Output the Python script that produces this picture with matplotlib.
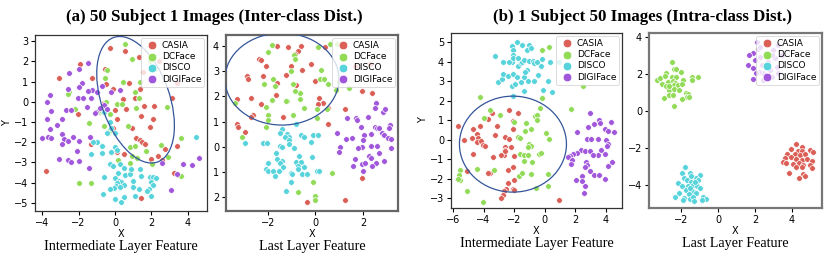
import matplotlib
matplotlib.use("Agg")
import matplotlib.pyplot as plt
from matplotlib.patches import Ellipse
from matplotlib.transforms import ScaledTranslation

labels = ["CASIA", "DCFace", "DISCO", "DIGIFace"]
colors = ["#db5f57", "#91db57", "#57d3db", "#a157db"]

# ---------------- Panel 1 : (a) intermediate layer ----------------
p1_casia = [(-0.3, 2.65), (0.55, 2.5), (1.3, 2.2), (-1.9, 1.86), (-3.1, 1.15), (-1.26, 1.19),
            (-0.56, 1.6), (0.77, 0.94), (-0.49, 0.87), (-0.1, 0.62), (1.38, 0.64), (1.1, 0.2),
            (0.44, 0.13), (0.62, -0.37), (1.6, -0.22), (2.14, -0.22), (0.09, -0.83), (-2.04, -0.6),
            (1.45, -0.68), (2.1, -0.83), (0.92, -1.32), (1.93, -1.24), (1.18, -1.77), (1.38, -1.87),
            (1.5, -1.98), (1.64, -2.1), (-1.34, -2.1), (0.1, -2.48), (0.5, -2.56), (2.38, -2.7),
            (1.97, -2.84), (2.75, -2.35), (3.4, -2.18), (3.13, 0.2), (3.41, 0.94), (-3.78, -3.42),
            (3.26, -3.5), (1.42, -4.77), (-0.62, -0.04), (-0.1, -1.3), (2.4, 2.0), (1.55, 1.45),
            (0.0, -0.4), (2.6, -2.9)]
p1_dcface = [(0.55, 2.85), (0.95, 2.1), (1.9, 2.0), (-0.45, 1.55), (-0.55, 1.15), (0.45, 1.0),
             (1.1, 0.5), (1.3, 0.2), (-2.5, 0.5), (-2.6, 0.4), (-0.9, -0.5), (-0.3, -0.6),
             (0.1, -0.1), (0.4, -0.1), (1.15, -0.3), (2.85, -0.25), (-1.4, -1.05), (-0.6, -1.2),
             (0.7, -1.2), (-0.4, -1.55), (0.85, -2.25), (1.1, -2.2), (0.95, -2.7), (1.7, -2.45),
             (2.05, -3.1), (2.55, -2.15), (2.9, -2.75), (3.45, -3.6), (3.6, -1.8), (3.6, -3.65),
             (-2.0, -4.0), (-1.3, -4.0), (1.2, -2.8), (0.85, -3.05), (0.9, -3.35), (0.15, -2.9),
             (-2.2, -0.35), (-0.95, -0.45), (-0.5, 0.0), (2.2, 1.6), (1.4, 1.0), (-0.25, -1.4)]
p1_disco = [(-0.3, -1.0), (-0.2, -1.3), (0.0, -1.55), (-0.7, -2.2), (-1.0, -2.0), (-1.2, -2.0),
            (-1.3, -2.6), (-0.7, -2.55), (0.0, -2.25), (-0.2, -2.5), (0.1, -2.4), (-0.3, -3.1),
            (-0.1, -3.2), (0.3, -3.1), (0.5, -3.25), (0.15, -3.5), (0.55, -3.6), (0.8, -3.55),
            (-0.6, -3.7), (0.0, -3.75), (0.2, -3.9), (0.35, -3.95), (0.5, -4.1), (0.1, -4.0),
            (0.05, -4.15), (0.3, -4.2), (-0.05, -4.25), (-0.3, -4.3), (-0.65, -4.55), (0.35, -4.95),
            (0.0, -4.8), (0.5, -4.7), (1.0, -4.2), (1.3, -4.3), (1.1, -4.65), (1.0, -3.9),
            (1.45, -3.65), (1.9, -3.7), (2.1, -3.7), (2.25, -3.75), (1.95, -3.95), (2.1, -4.1),
            (1.85, -4.3), (1.75, -4.4), (2.0, -4.65), (0.9, -3.3), (4.45, -1.75), (-0.6, -0.5),
            (1.4, -3.3), (-0.45, -1.55)]
p1_digi = [(-1.5, 1.9), (-1.95, 1.6), (-2.5, 1.4), (-0.7, 0.8), (-1.25, 0.6), (-1.8, 0.95),
           (-1.95, 0.75), (-2.6, 0.65), (-1.5, 0.55), (-1.3, 0.2), (-1.0, 0.5), (-0.2, 0.5),
           (-3.55, 0.35), (-3.75, 0.0), (-2.05, 0.2), (-1.75, 0.2), (-1.55, -0.25), (-0.6, -0.15),
           (-0.45, -0.35), (-1.05, -0.5), (-0.8, -0.3), (-3.5, -0.45), (-2.7, -0.4), (-2.4, -0.4),
           (-1.1, -0.55), (-2.9, -0.85), (-3.75, -0.85), (-3.2, -1.15), (-3.55, -1.35), (-2.9, -1.6),
           (-2.8, -1.85), (-2.6, -1.95), (-2.3, -1.75), (-1.35, -1.75), (-4.0, -1.8), (-3.7, -1.75),
           (-3.5, -1.8), (-2.9, -2.1), (-2.0, -1.95), (-2.1, -2.45), (-3.1, -2.85), (-2.6, -2.9),
           (-2.4, -3.0), (-1.95, -2.95), (-1.4, -3.25), (3.75, -3.1), (4.25, -3.15), (4.6, -2.8),
           (3.4, -3.55), (3.1, -4.35), (2.6, -3.05), (0.3, 0.6)]

# ---------------- Panel 2 : (a) last layer ----------------
p2_casia = [(-1.6, 4.0), (-1.15, 3.95), (-0.6, 4.0), (-0.75, 3.8), (-0.85, 3.7), (-2.4, 3.5),
            (-2.3, 3.45), (-2.1, 3.2), (-1.05, 3.2), (-0.55, 3.05), (-0.2, 3.3), (-1.25, 2.85),
            (-2.9, 2.8), (-2.85, 2.7), (-2.2, 2.8), (-1.6, 2.55), (-0.8, 2.45), (0.0, 2.6),
            (0.55, 1.55), (-3.3, 1.9), (-2.7, 1.95), (-1.65, 2.05), (-2.3, 1.7), (0.15, 1.95),
            (0.3, 1.75), (0.1, 1.7), (-2.65, 1.25), (-2.7, 1.2), (-1.35, 1.2), (0.55, 0.9),
            (1.25, 1.5), (-3.3, 0.9), (-3.25, 0.8), (-2.95, 0.6), (1.95, 2.2), (2.4, 2.15),
            (1.65, 3.2), (2.3, 3.3), (1.95, -1.25), (1.25, -2.1), (-0.35, -2.2), (0.4, 3.95)]
p2_dcface = [(-1.85, 4.05), (-2.0, 3.75), (-0.9, 3.65), (-0.85, 3.5), (-1.05, 3.0), (0.1, 3.95),
             (0.6, 4.1), (0.9, 4.1), (0.25, 3.05), (0.2, 2.7), (0.35, 2.7), (-1.8, 2.7),
             (-1.7, 2.4), (-2.15, 2.5), (-0.65, 2.15), (-0.85, 2.2), (-0.95, 2.5), (-3.4, 1.75),
             (-2.1, 1.6), (-1.85, 1.85), (-1.2, 1.8), (-0.65, 1.9), (0.05, 1.5), (-1.25, 1.8),
             (-0.5, 1.55), (-0.95, 1.25), (-2.0, 1.25), (-2.0, 1.05), (-2.1, 0.8), (0.05, 1.15),
             (0.5, 1.5), (-3.1, 0.4), (1.0, 2.6), (0.85, 2.25), (1.4, 2.35), (0.55, 2.5),
             (0.7, -1.05), (-0.1, -1.4), (-0.75, -1.8), (0.0, -1.95), (0.0, -2.1)]
p2_disco = [(-1.4, 0.7), (-1.5, 0.55), (-1.2, 0.5), (-1.1, 0.4), (-1.3, 0.4), (-0.8, 0.9),
            (-2.2, 0.15), (-2.05, 0.15), (-1.5, 0.05), (-1.4, 0.0), (-1.1, 0.25), (-1.1, 0.1),
            (-0.6, 0.45), (-0.5, 0.4), (-0.9, -0.05), (-0.2, 0.2), (-0.1, 0.45), (0.1, 0.45),
            (-2.95, 0.15), (-1.65, -0.25), (-1.6, -0.5), (-1.4, -0.55), (-0.7, -0.35), (-0.15, -0.4),
            (-2.0, -0.65), (-1.5, -0.65), (-1.35, -0.8), (-0.8, -0.6), (-0.6, -0.6), (-0.75, -0.75),
            (-0.5, -0.8), (-2.1, -0.9), (-2.0, -0.95), (-1.8, -0.95), (-1.55, -0.95), (-1.7, -1.15),
            (-1.05, -1.05), (-1.0, -1.1), (-0.55, -1.1), (-0.35, -1.1), (-0.75, -0.9), (0.05, -0.95),
            (0.15, -0.95), (-1.05, -1.4), (-1.25, -1.75)]
p2_digi = [(2.55, 1.75), (2.5, 1.55), (2.85, 1.4), (2.95, 1.5), (3.15, 0.85), (3.1, 0.75),
           (1.35, 1.15), (1.7, 1.15), (1.75, 1.05), (1.9, 0.8), (2.2, 1.2), (2.5, 0.8),
           (2.6, 0.75), (2.7, 0.75), (2.8, 0.55), (2.9, 0.45), (3.05, 0.35), (3.2, 0.3),
           (0.9, 0.55), (1.3, 0.3), (1.55, 0.35), (2.05, 0.45), (2.35, 0.5), (2.0, 0.25),
           (2.35, 0.05), (2.6, 0.05), (1.05, 0.0), (1.0, -0.2), (1.95, 0.0), (1.8, -0.05),
           (2.25, -0.35), (2.35, -0.45), (3.2, -0.05), (2.55, -0.65), (1.6, -0.75), (1.95, -0.7),
           (2.1, -0.65), (2.0, -0.95), (2.4, -0.75), (2.9, -0.55), (2.7, -0.25), (1.65, -0.5)]

# ---------------- Panel 3 : (b) intermediate layer ----------------
p3_casia = [(-2.33, 1.53), (-1.74, 1.38), (-3.45, 1.36), (-3.14, 0.68), (-3.69, 1.07), (-4.23, 0.71),
            (-4.71, 0.52), (-4.45, 0.3), (-4.76, 0.08), (-4.36, 0.08), (-4.43, -0.11), (-4.2, -0.08),
            (-4.03, -0.25), (-3.88, -0.3), (-5.28, -0.04), (-5.67, 0.68), (-3.23, 0.23), (-2.62, 0.13),
            (-2.59, -0.37), (-2.59, -0.54), (-2.66, -0.81), (-2.88, -0.81), (-3.36, -0.88), (-2.09, 0.56),
            (-2.05, 0.95), (-2.18, -0.38), (-2.03, -0.86), (-2.09, -1.38), (-2.42, -1.53), (-3.6, -1.73),
            (-3.73, -1.73), (-4.67, -0.76), (-5.06, -1.63), (-2.42, -2.23), (-2.55, -2.54), (-2.66, -2.64),
            (-2.72, -2.83), (-2.88, -2.98), (-2.05, -2.54), (-1.98, -2.09), (-2.03, -2.6), (0.94, -3.09),
            (-2.33, 0.04), (-2.6, -0.6)]
p3_dcface = [(-4.23, 2.18), (-0.19, 4.61), (0.27, 4.74), (-0.17, 2.13), (-0.3, 1.63), (-3.58, 1.51),
             (-2.9, 1.24), (-3.99, 1.09), (-0.67, 1.19), (-0.5, 1.24), (-0.52, 1.02), (-1.24, 0.85),
             (-0.89, 0.56), (-1.31, 0.42), (-1.74, 0.13), (-1.61, 0.08), (0.09, 0.33), (0.27, 0.04),
             (-1.04, -0.21), (-0.93, -0.35), (-1.09, -0.38), (-1.61, -0.74), (-1.37, -0.78), (-1.09, -0.81),
             (-0.37, -0.76), (-0.26, -0.69), (-1.33, -1.1), (-0.85, -1.12), (-3.34, -1.55), (-4.43, -1.5),
             (-5.52, -1.53), (-5.59, -1.79), (-5.56, -2.06), (-5.67, -2.03), (-5.1, -2.62), (-4.06, -3.17),
             (-1.66, -1.87), (-1.52, -1.72), (-0.89, -1.74), (0.2, -1.75), (0.22, -2.35), (-0.56, -2.49),
             (1.73, 1.56), (2.47, 2.73), (-2.03, 0.9), (1.3, 3.15)]
p3_disco = [(-3.25, 4.27), (-2.7, 3.99), (-2.11, 3.99), (-3.05, 2.95), (-2.81, 3.09), (-2.72, 3.38),
            (-2.42, 3.26), (-2.07, 3.34), (-2.11, 2.73), (-1.92, 2.86), (-1.79, 3.21), (-1.57, 2.97),
            (-1.37, 3.21), (-1.09, 2.98), (-0.69, 3.02), (-1.74, 3.79), (-1.57, 3.91), (-1.48, 3.96),
            (-1.35, 4.06), (-1.04, 4.03), (-0.76, 4.03), (-0.69, 3.92), (-0.52, 3.96), (-0.19, 4.13),
            (0.31, 3.99), (-0.24, 3.75), (-2.14, 4.78), (-1.81, 4.98), (-1.52, 4.86), (-1.0, 4.85),
            (-1.15, 4.57), (-0.87, 4.68), (-2.09, 4.57), (-2.09, 4.35), (-2.05, 4.18), (-1.72, 4.2),
            (-1.17, 3.55), (-1.31, 3.46), (-0.43, 3.31), (0.24, 3.02), (-0.13, 2.52), (0.48, 2.45),
            (-1.35, 2.5), (-2.09, 2.23), (0.94, 3.96), (-2.35, 3.96)]
p3_digi = [(2.93, 1.36), (3.54, 1.03), (3.59, 0.85), (3.21, 0.81), (4.33, 0.91), (2.8, 0.64),
           (3.96, 0.56), (4.15, 0.44), (4.55, 0.37), (2.12, 0.38), (2.77, 0.03), (3.02, 0.03),
           (3.45, 0.03), (4.02, -0.04), (4.15, -0.21), (4.04, -0.3), (2.34, -0.52), (2.62, -0.59),
           (2.95, -0.59), (3.65, -0.52), (3.93, -0.71), (3.5, -0.78), (3.17, -0.81), (2.1, -0.69),
           (1.84, -0.76), (1.66, -0.86), (1.53, -0.91), (1.79, -1.03), (1.71, -1.26), (2.67, -1.15),
           (2.73, -1.32), (2.6, -1.41), (4.37, -1.12), (4.15, -1.36), (2.95, -1.62), (3.19, -1.79),
           (2.43, -1.87), (2.06, -2.09), (2.43, -2.12), (3.91, -2.03), (3.54, -1.8), (2.62, -2.35),
           (2.56, -2.74)]

# ---------------- Panel 4 : (b) last layer ----------------
p4_casia = [(4.19, -1.79), (4.52, -1.94), (4.97, -2.12), (5.15, -2.22), (3.92, -2.08), (4.33, -2.15),
            (4.56, -2.15), (3.71, -2.33), (4.16, -2.33), (4.43, -2.38), (4.69, -2.33), (3.62, -2.56),
            (3.92, -2.47), (4.21, -2.62), (4.52, -2.65), (4.82, -2.62), (5.06, -2.69), (3.53, -2.74),
            (3.67, -2.8), (4.07, -2.87), (4.39, -2.83), (4.61, -2.92), (4.97, -2.92), (4.21, -3.05),
            (4.56, -3.01), (5.1, -3.07), (3.85, -3.37), (4.61, -3.41), (4.37, -3.61), (4.68, -3.52)]
p4_dcface = [(-2.47, 2.62), (-2.38, 2.26), (-2.29, 2.26), (-2.81, 2.06), (-2.0, 2.11), (-3.29, 1.66),
             (-3.11, 1.79), (-2.86, 1.88), (-2.48, 1.84), (-2.27, 1.81), (-1.89, 1.66), (-1.41, 1.81),
             (-1.1, 1.81), (-1.41, 1.66), (-2.68, 1.57), (-2.43, 1.59), (-2.31, 1.52), (-3.01, 1.43),
             (-2.79, 1.34), (-2.57, 1.27), (-2.36, 1.39), (-2.18, 1.37), (-1.93, 1.45), (-2.63, 1.12),
             (-2.4, 1.16), (-2.11, 1.12), (-1.75, 0.98), (-1.61, 0.91), (-1.68, 0.76), (-1.93, 0.64),
             (-2.93, 0.71), (-2.66, 0.87), (-2.43, 0.83), (-2.36, 0.26), (-1.57, 0.73), (-2.65, 1.34)]
p4_disco = [(-1.77, -3.05), (-1.93, -3.37), (-1.5, -3.37), (-0.96, -3.45), (-1.82, -3.61), (-1.21, -3.64),
            (-1.07, -3.73), (-1.68, -3.73), (-1.46, -3.82), (-2.18, -3.91), (-1.95, -4.06), (-1.61, -4.06),
            (-1.35, -4.0), (-1.14, -4.06), (-0.96, -4.18), (-1.75, -4.27), (-1.41, -4.31), (-2.11, -4.45),
            (-1.59, -4.49), (-1.17, -4.42), (-1.86, -4.69), (-1.5, -4.74), (-1.35, -4.63), (-0.82, -4.63),
            (-0.67, -4.78), (-0.87, -4.81), (-1.28, -4.87), (-1.89, -4.81), (-2.31, -4.63), (-1.46, -3.52),
            (-1.25, -3.82), (-1.53, -4.18)]
p4_digi = [(1.64, 2.47), (1.91, 3.14), (2.0, 2.74), (1.88, 2.29), (1.91, 1.73), (2.18, 3.32),
           (2.27, 2.92), (2.36, 2.47), (2.45, 2.02), (2.63, 3.1), (2.72, 2.65), (2.81, 2.2),
           (2.54, 1.75), (2.99, 3.28), (3.08, 2.83), (3.17, 2.38), (2.9, 1.84), (2.09, 3.73),
           (2.63, 3.73), (3.26, 3.55), (3.26, 2.02), (2.42, 1.66), (2.24, 2.11), (2.06, 2.06),
           (1.7, 3.01), (2.9, 3.01), (2.27, 3.46), (3.44, 3.01)]

panels = [
    [p1_casia, p1_dcface, p1_disco, p1_digi],
    [p2_casia, p2_dcface, p2_disco, p2_digi],
    [p3_casia, p3_dcface, p3_disco, p3_digi],
    [p4_casia, p4_dcface, p4_disco, p4_digi],
]

xlims = [(-4.39, 5.05), (-3.77, 3.48), (-6.13, 5.05), (-3.73, 5.62)]
ylims = [(-5.4, 3.3), (-2.55, 4.44), (-3.5, 5.46), (-5.24, 4.2)]
xticks = [[-4, -2, 0, 2, 4], [-2, 0, 2], [-6, -4, -2, 0, 2, 4], [-2, 0, 2, 4]]
yticks = [[-5, -4, -3, -2, -1, 0, 1, 2, 3], [4, 3, 2, 1, 0, -1, -2],
          [-3, -2, -1, 0, 1, 2, 3, 4, 5], [-4, -2, 0, 2, 4]]
p2_ytick_labels = ["4", "3", "2", "1", "0", "1", "2"]

# ellipses: (panel, center x, center y, width in, height in, angle)
ellipses = [(0, 1.13, 0.1, 0.68, 1.32, 19.4), (1, -1.41, 2.69, 1.14, 0.92, 0.0),
            (2, -2.08, -0.23, 1.07, 0.96, 0.0)]

subtitles = ["Intermediate Layer Feature", "Last Layer Feature",
             "Intermediate Layer Feature", "Last Layer Feature"]
titles = ["(a) 50 Subject 1 Images (Inter-class Dist.)",
          "(b) 1 Subject 50 Images (Intra-class Dist.)"]

fig = plt.figure(figsize=(8.3, 2.54), dpi=100)
positions = [(35, 35, 172, 176), (226, 35, 172, 176), (451, 33, 171, 175), (649, 33, 173, 175)]
W, H = 830, 254
axes = []
for (l, t, w, h) in positions:
    axes.append(fig.add_axes([l / W, (H - t - h) / H, w / W, h / H]))

spine_styles = [("#333333", 0.9), ("#666666", 1.6), ("#333333", 0.9), ("#777777", 1.6)]

for i, ax in enumerate(axes):
    for k, pts in enumerate(panels[i]):
        xs = [p[0] for p in pts]
        ys = [p[1] for p in pts]
        ax.scatter(xs, ys, s=17, color=colors[k], edgecolor="white", linewidth=0.5,
                   label=labels[k], zorder=2)
    ax.set_xlim(*xlims[i])
    ax.set_ylim(*ylims[i])
    ax.set_xticks(xticks[i])
    ax.set_yticks(yticks[i])
    ax.tick_params(labelsize=7, length=3, width=0.8, pad=2)
    c, lw = spine_styles[i]
    for sp in ax.spines.values():
        sp.set_color(c)
        sp.set_linewidth(lw)
    ax.set_xlabel("X", fontsize=7, labelpad=1)
    if i in (0, 2):
        ax.set_ylabel("Y", fontsize=7, labelpad=1)
    leg = ax.legend(loc="upper right", fontsize=6.5, markerscale=1.5, handletextpad=0.3,
                    labelspacing=0.25, borderpad=0.35, borderaxespad=0.3, handlelength=1.6,
                    frameon=True)
    leg.get_frame().set_linewidth(0.6)
    ax.text(0.5, -0.165, subtitles[i], transform=ax.transAxes, ha="center", va="top",
            fontsize=10.2, family="Liberation Serif")

axes[1].set_yticklabels(p2_ytick_labels)

for (pi, cx, cy, w, h, ang) in ellipses:
    ax = axes[pi]
    e = Ellipse((0, 0), w, h, angle=ang, fill=False, edgecolor="#34559a", linewidth=0.9,
                transform=fig.dpi_scale_trans + ScaledTranslation(cx, cy, ax.transData), zorder=3)
    ax.add_patch(e)

fig.text(214 / W, 1 - 17 / H, titles[0], ha="center", va="center", fontsize=12.2,
         fontweight="bold", family="Liberation Serif")
fig.text(642 / W, 1 - 17 / H, titles[1], ha="center", va="center", fontsize=12.2,
         fontweight="bold", family="Liberation Serif")

fig.savefig("out.png", dpi=100)
